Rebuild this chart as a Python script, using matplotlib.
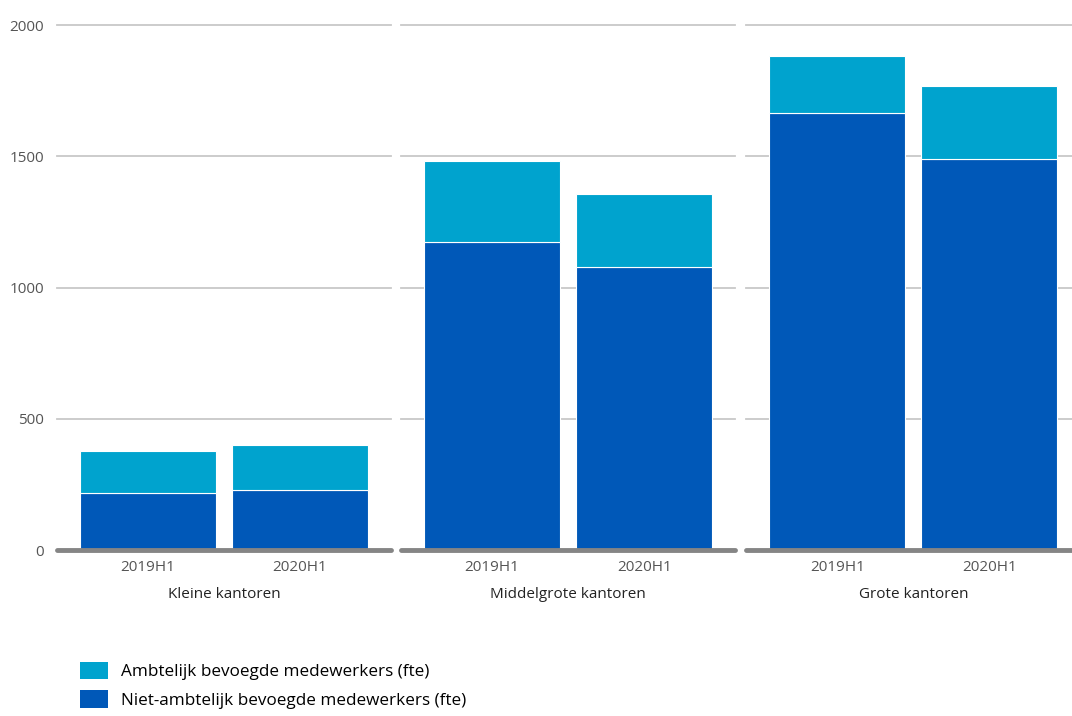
import matplotlib.pyplot as plt
from matplotlib.patches import Patch

# data (fte)
groups = ["Kleine kantoren", "Middelgrote kantoren", "Grote kantoren"]
periods = ["2019H1", "2020H1"]
niet_ambtelijk = [[217, 229], [1173, 1078], [1665, 1490]]
ambtelijk = [[160, 171], [309, 278], [217, 278]]
yticks = [0, 500, 1000, 1500, 2000]

c_light = "#00a3ce"
c_dark = "#0058b8"

plt.rcParams["font.family"] = ["Open Sans", "DejaVu Sans"]

fig = plt.figure(figsize=(10.72, 7.16), dpi=100)
lefts = [0.053, 0.374, 0.696]
width = 0.312

for i, g in enumerate(groups):
    ax = fig.add_axes([lefts[i], 0.2318, width, 0.7332])
    x = list(range(len(periods)))
    ax.bar(x, niet_ambtelijk[i], width=0.895, color=c_dark,
           edgecolor="white", linewidth=0.8, zorder=3)
    ax.bar(x, ambtelijk[i], width=0.895, bottom=niet_ambtelijk[i],
           color=c_light, edgecolor="white", linewidth=0.8, zorder=3)
    ax.set_xlim(-0.6, 1.6)
    ax.set_ylim(0, 2000)
    for y in yticks[1:]:
        ax.axhline(y, color="#c8c8c8", linewidth=1.3, zorder=1, clip_on=False)
    ax.axhline(0, color="#858585", linewidth=3.5, zorder=4,
               solid_capstyle="round", clip_on=False)
    for s in ax.spines.values():
        s.set_visible(False)
    ax.set_xticks(x)
    ax.set_xticklabels(periods, color="#555555", fontsize=11)
    ax.tick_params(axis="x", length=0, pad=7)
    ax.set_xlabel(g, fontsize=11, color="#222222", labelpad=9)
    if i == 0:
        ax.set_yticks(yticks)
        ax.set_yticklabels([str(v) for v in yticks], color="#555555", fontsize=11)
        ax.tick_params(axis="y", length=0, pad=9)
    else:
        ax.set_yticks([])
    ax.patch.set_alpha(0)

handles = [Patch(facecolor=c_light, label="Ambtelijk bevoegde medewerkers (fte)"),
           Patch(facecolor=c_dark, label="Niet-ambtelijk bevoegde medewerkers (fte)")]
fig.legend(handles=handles, loc="upper left", bbox_to_anchor=(0.0666, 0.088),
           frameon=False, fontsize=12.3, handlelength=1.64, handleheight=1.23,
           labelspacing=0.6, handletextpad=0.75, borderpad=0)

fig.savefig("out.png", dpi=100)
